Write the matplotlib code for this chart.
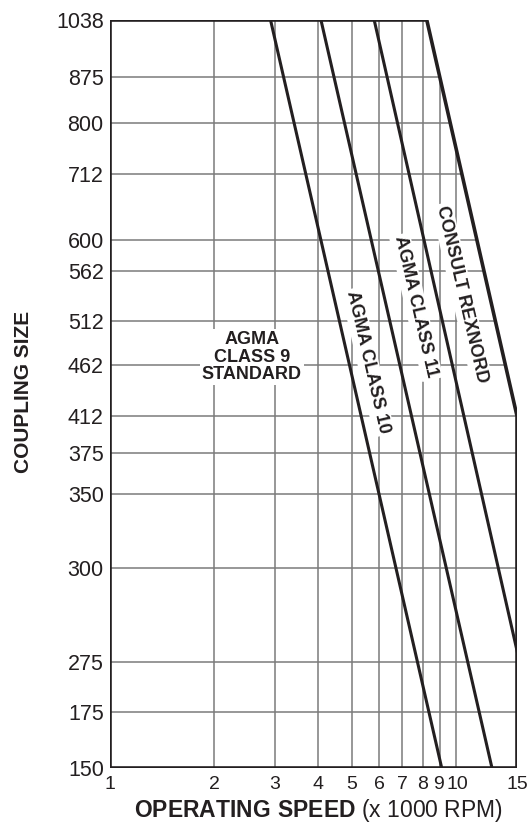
import numpy as np
import matplotlib.pyplot as plt
import matplotlib.transforms as mtransforms
from matplotlib.patches import Polygon

plt.rcParams['font.family'] = ['Liberation Sans', 'DejaVu Sans']
plt.rcParams['mathtext.fontset'] = 'custom'
plt.rcParams['mathtext.rm'] = 'Liberation Sans'
plt.rcParams['mathtext.bf'] = 'Liberation Sans:bold'

# coupling sizes and where each sits on the (non-uniform) vertical scale
sizes = ['150', '175', '275', '300', '350', '375', '412', '462', '512',
         '562', '600', '712', '800', '875', '1038']
size_pos = [0, 56, 106, 200, 274, 315, 352, 403, 447, 497, 528, 594, 645, 691, 748]

# operating speed (x 1000 rpm)
speed_ticks = [1, 2, 3, 4, 5, 6, 7, 8, 9, 10, 15]
speed_labels = ['1', '2', '3', '4', '5', '6', '7', '8', '9', '10', '15']

# class boundaries: speed at size 1038 and speed at size 150
class10_speed = [2.91, 9.09]
class11_speed = [4.07, 12.7]
rexnord_speed = [5.8, 17.9]
# outer limit: speed at size 1038, then reaches 15 at size 412
limit_top_speed = 8.23
limit_size = '412'

y_bot = size_pos[0]
y_top = size_pos[-1]
y_lim = size_pos[sizes.index(limit_size)]

fig = plt.figure(figsize=(5.3, 8.25), dpi=100)
ax = fig.add_axes([110 / 530, 57 / 825, 407 / 530, 748 / 825])
ax.set_xscale('log')
ax.set_xlim(speed_ticks[0], speed_ticks[-1])
ax.set_ylim(y_bot, y_top)

# chart area outline
outline = [(speed_ticks[0], y_bot), (speed_ticks[-1], y_bot), (speed_ticks[-1], y_lim),
           (limit_top_speed, y_top), (speed_ticks[0], y_top)]
area = Polygon(outline, closed=True, facecolor='none', edgecolor='#231f20',
               lw=2.6, zorder=4, joinstyle='miter')
ax.add_patch(area)
clip = Polygon(outline, closed=True, transform=ax.transData)

grid_c = '#7a7a7a'
for s in speed_ticks[1:-1]:
    ln, = ax.plot([s, s], [y_bot, y_top], color=grid_c, lw=1.1, zorder=1)
    ln.set_clip_path(clip)
for p in size_pos[1:-1]:
    ln, = ax.plot([speed_ticks[0], speed_ticks[-1]], [p, p], color=grid_c, lw=1.1, zorder=1)
    ln.set_clip_path(clip)

for sp in [class10_speed, class11_speed, rexnord_speed]:
    ln, = ax.plot([sp[0], sp[1]], [y_top, y_bot], color='#231f20', lw=2.2, zorder=3)
    ln.set_clip_path(clip)

for s in ax.spines.values():
    s.set_visible(False)

ax.set_xticks(speed_ticks)
ax.set_xticklabels(speed_labels)
ax.xaxis.set_minor_locator(plt.NullLocator())
ax.set_yticks(size_pos)
ax.set_yticklabels(sizes)
ax.tick_params(axis='both', length=0, colors='#231f20')
ax.tick_params(axis='x', pad=6, labelsize=14)
ax.tick_params(axis='y', pad=4.5, labelsize=15.5)

# 9 and 10 sit very close together, push them apart a touch
for lab in ax.get_xticklabels():
    if lab.get_text() == '9':
        lab.set_transform(lab.get_transform() + mtransforms.ScaledTranslation(-2 / 100, 0, fig.dpi_scale_trans))
    if lab.get_text() == '10':
        lab.set_transform(lab.get_transform() + mtransforms.ScaledTranslation(1.5 / 100, 0, fig.dpi_scale_trans))

fig.text(24 / 530, 1 - 392 / 825, 'COUPLING SIZE', rotation=90, fontsize=15,
         fontweight='bold', color='#231f20', ha='center', va='center')
fig.text(318 / 530, 1 - 810 / 825, r'$\bf{OPERATING\ SPEED}$ (x 1000 RPM)',
         fontsize=16.5, color='#231f20', ha='center', va='center')

box = dict(facecolor='white', edgecolor='none', pad=1.5)
txt = dict(fontsize=13, fontweight='bold', color='#231f20', ha='center', va='center', zorder=2)
ax.text(2.57, 411, 'AGMA\nCLASS 9\nSTANDARD', linespacing=1.05, bbox=box, **txt)
ax.text(5.56, 406, 'AGMA CLASS 10', rotation=-77, rotation_mode='anchor', bbox=box, **txt)
ax.text(7.66, 461, 'AGMA CLASS 11', rotation=-77, rotation_mode='anchor', bbox=box, **txt)
ax.text(10.4, 474, 'CONSULT REXNORD', rotation=-77, rotation_mode='anchor', bbox=box, **txt)

fig.savefig('out.png', dpi=100)
